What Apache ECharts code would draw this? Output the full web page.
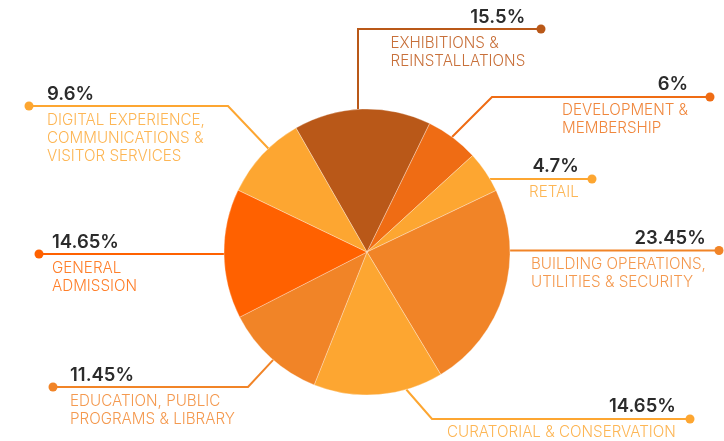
<!DOCTYPE html>
<html>
<head>
<meta charset="utf-8">
<script src="https://cdn.jsdelivr.net/npm/echarts@6/dist/echarts.min.js"></script>
<style>
html,body{margin:0;padding:0;background:#fff;}
#chart{width:724px;height:441px;}
</style>
</head>
<body>
<div id="chart"></div>
<script>
// ---- data ----
const categories = [
  'EXHIBITIONS &\nREINSTALLATIONS',
  'DEVELOPMENT &\nMEMBERSHIP',
  'RETAIL',
  'BUILDING OPERATIONS,\nUTILITIES & SECURITY',
  'CURATORIAL & CONSERVATION',
  'EDUCATION, PUBLIC\nPROGRAMS & LIBRARY',
  'GENERAL\nADMISSION',
  'DIGITAL EXPERIENCE,\nCOMMUNICATIONS &\nVISITOR SERVICES'
];
const values = [15.5, 6, 4.7, 23.45, 14.65, 11.45, 14.65, 9.6];
const valueLabels = ['15.5%', '6%', '4.7%', '23.45%', '14.65%', '11.45%', '14.65%', '9.6%'];

// ---- styles ----
const sliceColors = ['#B95818', '#EF6C14', '#FDA631', '#F18427', '#FDA631', '#F18427', '#FF6100', '#FDA631'];
const nameColors  = ['#C8703A', '#F0873D', '#FDB655', '#F4994F', '#FDB655', '#F4994F', '#FF7F2A', '#FDB655'];

const CX = 367, CY = 252, R = 143;

// label layout: box = top-left of text block, side = where percent aligns
const layout = [
  {side:'right', box:[390.5, 6],   dot:[541, 29],  elbow:[358, 29],  dir:[0, 1]},
  {side:'right', box:[562, 73],    dot:[710, 97],  elbow:[492, 97],  dir:[-1, 1]},
  {side:'right', box:[529, 155],   dot:[592, 179], elbow:null,       dir:[-1, 0]},
  {side:'right', box:[531, 227],   dot:[719, 250.5], elbow:null,     dir:[-1, 0]},
  {side:'right', box:[447, 395],   dot:[690, 419], elbow:[432, 419], dir:[-0.87, -1]},
  {side:'left',  box:[70, 364],    dot:[53, 387],  elbow:[248, 387], dir:[0.93, -1]},
  {side:'left',  box:[52, 231],    dot:[39, 254],  elbow:null,       dir:[1, 0]},
  {side:'left',  box:[47, 83],     dot:[29, 106],  elbow:[228, 106], dir:[0.95, 1]}
];

function edgePoint(P, d) {
  const len = Math.hypot(d[0], d[1]);
  const ux = d[0] / len, uy = d[1] / len;
  const fx = P[0] - CX, fy = P[1] - CY;
  const b = fx * ux + fy * uy;
  const c = fx * fx + fy * fy - R * R;
  const disc = b * b - c;
  const t = -b - Math.sqrt(Math.max(disc, 0));
  return [P[0] + t * ux, P[1] + t * uy];
}

const rich = {
  pr: {fontFamily:'Inter', fontSize:18.5, fontWeight:600, color:'#2B2B2B', lineHeight:22, align:'right'},
  pl: {fontFamily:'Inter', fontSize:18.5, fontWeight:600, color:'#2B2B2B', lineHeight:22, align:'left'},
  s:  {fontSize:1, lineHeight:6.5, align:'left'}
};
nameColors.forEach((c, i) => {
  rich['n' + i] = {fontFamily:'Inter', fontSize:15.2, fontWeight:300, color:c, lineHeight:18, align:'left'};
});

const chart = echarts.init(document.getElementById('chart'), null, {renderer:'canvas'});
chart.setOption({
  animation: false,
  backgroundColor: '#fff',
  series: [{
    type: 'pie',
    center: [CX, CY],
    radius: R,
    startAngle: 119.8,
    clockwise: true,
    avoidLabelOverlap: false,
    emphasis: {disabled: true},
    itemStyle: {borderColor: 'rgba(255,255,255,0.6)', borderWidth: 0.5},
    data: values.map((v, i) => ({
      value: v,
      name: categories[i],
      itemStyle: {color: sliceColors[i]},
      labelLine: {lineStyle: {color: sliceColors[i]}}
    })),
    label: {
      show: true,
      position: 'outside',
      formatter: p => {
        const i = p.dataIndex;
        const pk = layout[i].side === 'right' ? 'pr' : 'pl';
        return '{' + pk + '|' + valueLabels[i] + '}\n{s| }\n' +
          categories[i].split('\n').map(l => '{n' + i + '|' + l + '}').join('\n');
      },
      rich: rich
    },
    labelLine: {show: true, smooth: false, length: 10, length2: 10, lineStyle: {width: 2}},
    labelLayout: function (params) {
      const L = layout[params.dataIndex];
      const from = L.elbow || L.dot;
      const start = edgePoint(from, L.dir);
      const pts = L.elbow ? [start, L.elbow, L.dot] : [start, L.dot];
      return {x: L.box[0], y: L.box[1], align: 'left', verticalAlign: 'top', labelLinePoints: pts};
    }
  }],
  graphic: layout.map((L, i) => ({
    type: 'circle',
    shape: {cx: L.dot[0], cy: L.dot[1], r: 4.5},
    style: {fill: sliceColors[i]},
    z: 100
  }))
});
</script>
</body>
</html>
